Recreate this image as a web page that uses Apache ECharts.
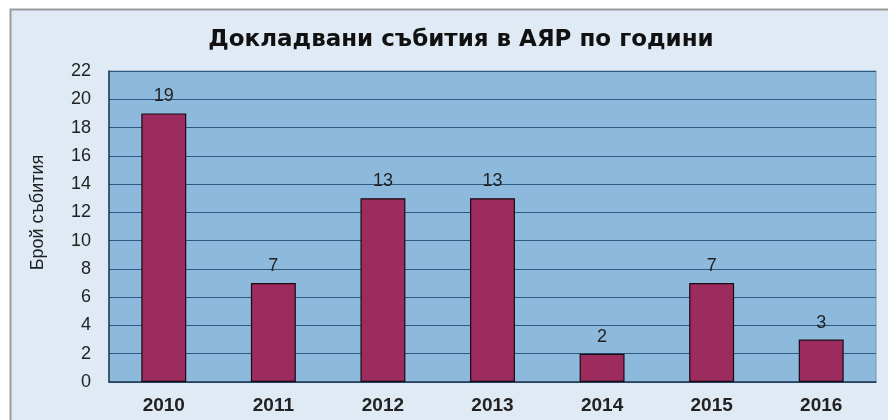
<!DOCTYPE html>
<html><head><meta charset="utf-8">
<script src="https://cdn.jsdelivr.net/npm/echarts@6/dist/echarts.min.js"></script>
<style>html,body{margin:0;padding:0;background:#fff}#c{width:888px;height:420px}</style>
</head><body><div id="c"></div>
<script>
var years = ['2010','2011','2012','2013','2014','2015','2016'];
var events = [19, 7, 13, 13, 2, 7, 3];
var yTicks = {min: 0, max: 22, interval: 2};
var chart = echarts.init(document.getElementById('c'));
chart.setOption({
  animation: false,
  backgroundColor: '#ffffff',
  graphic: [{
    type: 'rect', z: -10, silent: true,
    shape: {x: 10.5, y: 9.5, width: 900, height: 440},
    style: {fill: '#dfeaf5', stroke: '#9a9a9a', lineWidth: 2}
  }],
  title: {
    text: 'Докладвани събития в АЯР по години',
    left: 456, textAlign: 'center', top: 24,
    textStyle: {fontFamily: 'DejaVu Sans', fontSize: 23, fontWeight: 'bold', color: '#111'}
  },
  grid: {
    left: 109, right: 12, top: 71, bottom: 38, show: true,
    backgroundColor: '#8dbadc', borderColor: '#7796b2', borderWidth: 1
  },
  xAxis: {
    type: 'category', data: years,
    axisLine: {lineStyle: {color: '#223b55', width: 1.5}},
    axisTick: {show: false},
    axisLabel: {fontFamily: 'Liberation Sans', fontSize: 19, fontWeight: 'bold', color: '#222', margin: 14}
  },
  yAxis: {
    type: 'value', min: yTicks.min, max: yTicks.max, interval: yTicks.interval,
    name: 'Брой събития', nameLocation: 'middle', nameGap: 62, nameRotate: 90,
    nameTextStyle: {fontFamily: 'Liberation Sans', fontSize: 18, color: '#222', padding: [0, 0, 0, 28]},
    axisLine: {show: true, lineStyle: {color: '#223b55', width: 1.5}},
    axisTick: {show: false},
    splitLine: {lineStyle: {color: '#2d5a82', width: 1.2}},
    axisLabel: {fontFamily: 'Liberation Sans', fontSize: 18, color: '#222', margin: 18}
  },
  series: [{
    type: 'bar', data: events, barWidth: '41%',
    itemStyle: {color: '#9b2c5d', borderColor: '#1a0a12', borderWidth: 1.2},
    label: {show: true, position: 'top', distance: 8, fontFamily: 'Liberation Sans', fontSize: 18, color: '#222'}
  }]
});
</script></body></html>
